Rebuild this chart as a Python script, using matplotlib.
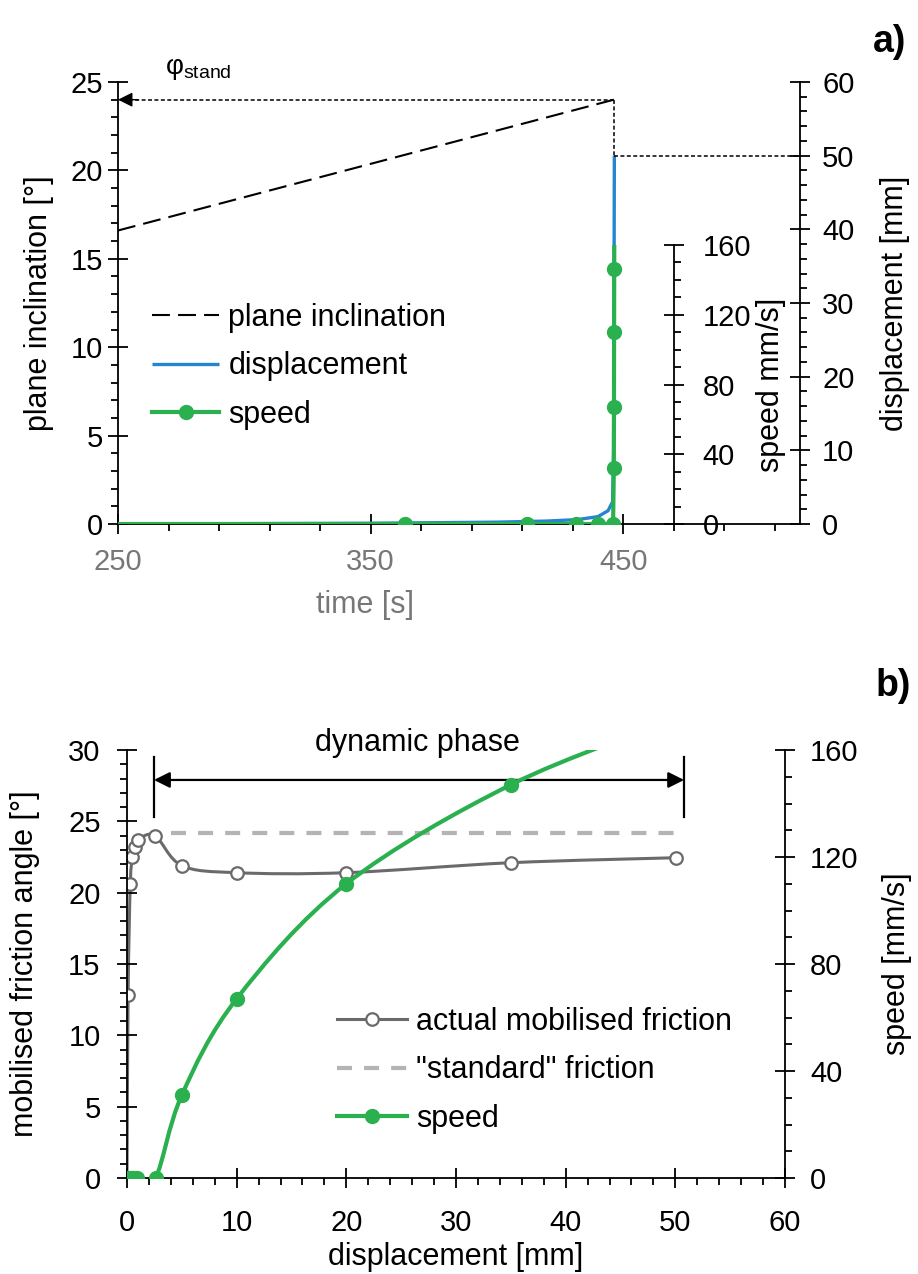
import numpy as np
import matplotlib
matplotlib.use('Agg')
import matplotlib.pyplot as plt
from matplotlib.path import Path
from matplotlib.patches import PathPatch
from matplotlib.lines import Line2D
from matplotlib.ticker import MultipleLocator, FixedLocator

plt.rcParams['font.family'] = ['Liberation Sans', 'DejaVu Sans']
plt.rcParams['mathtext.fontset'] = 'custom'
plt.rcParams['mathtext.rm'] = 'Liberation Sans'
plt.rcParams['mathtext.it'] = 'Liberation Sans:italic'

# ---- a) tilting test vs. time ----
t_incl = [250, 446.3]
phi_incl = [16.6, 24.0]
phi_stand = 24.0
t_fail = 446.3
disp_final = 50

t_disp = [250, 300, 350, 400, 420, 432, 440, 444, 445.8, 446.2, 446.4, 446.5]
disp_t = [0, 0.05, 0.1, 0.25, 0.4, 0.6, 1.0, 1.8, 3.0, 10, 35, 50]

t_speed = [250, 363.7, 412, 431.5, 440, 446.0, 446.3, 446.35, 446.4, 446.45, 446.5]
speed_t = [0, 0, 0, 0, 0, 0, 32, 67, 110, 146, 172]

# ---- b) friction and speed vs. displacement ----
fr_disp = [0, 0.1, 0.3, 0.5, 0.7, 1.0, 2.55, 5.0, 10.0, 20.0, 35.0, 50.1]
fr_angle = [0, 12.8, 20.6, 22.5, 23.2, 23.7, 24.0, 21.9, 21.4, 21.4, 22.1, 22.45]
std_friction = 24.15
std_range = [4.0, 50.1]

sp_disp = [0, 0.25, 0.55, 0.9, 2.6, 5.0, 10.0, 20.0, 35.0, 50.3]
sp_speed = [0, 0, 0, 0, 0, 31, 67, 110, 147, 172]

dyn_phase = [2.46, 50.8]

green = '#2bb04f'
blue = '#2585cf'
grey = '#6a6a6a'
light = '#b4b4b4'
fs = 21     # tick labels
fl = 22     # axis labels, legend, annotations


def smooth_path(x, y):
    # catmull-rom through the points, written as cubic bezier segments
    p = np.column_stack([x, y]).astype(float)
    n = len(p)
    verts = [p[0]]
    codes = [Path.MOVETO]
    for i in range(n - 1):
        p0 = p[i - 1] if i > 0 else p[i]
        p3 = p[i + 2] if i + 2 < n else p[i + 1]
        verts += [p[i] + (p[i + 1] - p0) / 6, p[i + 1] - (p3 - p[i]) / 6, p[i + 1]]
        codes += [Path.CURVE4] * 3
    return Path(verts, codes)


def style_ticks(a, axis='both', pad=4):
    a.tick_params(axis=axis, which='major', direction='inout', length=14, width=1.3,
                  labelsize=fs, pad=pad)
    a.tick_params(axis=axis, which='minor', direction='out', length=5, width=1.3)


W, H = 918, 1274
fig = plt.figure(figsize=(W / 100, H / 100), dpi=100)

# ================= a) =================
x0, x1, yb, yt = 118, 800, 524, 82
ax = fig.add_axes([x0 / W, 1 - yb / H, (x1 - x0) / W, (yb - yt) / H])
ax.set_xlim(250, 520)
ax.set_ylim(0, 25)
for s in ['top', 'right']:
    ax.spines[s].set_visible(False)
for s in ['left', 'bottom']:
    ax.spines[s].set_linewidth(1.3)
ax.xaxis.set_major_locator(FixedLocator([250, 350, 450]))
ax.xaxis.set_minor_locator(FixedLocator(np.arange(250, 521, 20)))
ax.yaxis.set_major_locator(MultipleLocator(5))
ax.yaxis.set_minor_locator(MultipleLocator(1))
style_ticks(ax)
ax.tick_params(axis='x', which='major', labelcolor='#777777', pad=10)
ax.set_ylabel('plane inclination [°]', fontsize=fl, labelpad=12)
ax.set_xlabel('time [s]', fontsize=fl, color='#777777')
ax.xaxis.set_label_coords((365 - x0) / (x1 - x0), -(605 - yb) / (yb - yt))
ax.xaxis.label.set_va('center')

incl_line, = ax.plot(t_incl, phi_incl, color='k', lw=1.5, ls=(0, (8.6, 3.9)))

# phi_stand marker arrow
ax.plot([t_fail, 251.5], [phi_stand, phi_stand], color='k', lw=1.1, ls=(0, (2.6, 1.6)))
ax.annotate('', xy=(250, phi_stand), xytext=(258, phi_stand),
            arrowprops=dict(arrowstyle='-|>', color='k', lw=1, mutation_scale=22,
                            shrinkA=0, shrinkB=0))
ax.text(282, 25.75, r'$\mathregular{\varphi_{stand}}$', fontsize=20, ha='center', va='center')

axd = ax.twinx()
axd.set_ylim(0, 60)
axd.set_xlim(250, 520)
for s in ['top', 'left', 'bottom']:
    axd.spines[s].set_visible(False)
axd.spines['right'].set_linewidth(1.3)
axd.yaxis.set_major_locator(MultipleLocator(10))
axd.yaxis.set_minor_locator(MultipleLocator(2))
style_ticks(axd, 'y', pad=9)
axd.set_ylabel('displacement [mm]', fontsize=fl, labelpad=18)

disp_line, = axd.plot(t_disp, disp_t, color=blue, lw=2.4, solid_capstyle='butt')
# failure guide lines
axd.plot([t_fail, t_fail], [phi_stand * 60 / 25, disp_final], color='k', lw=1.1,
         ls=(0, (2.6, 1.6)))
axd.plot([t_fail, 520], [disp_final, disp_final], color='k', lw=1.1, ls=(0, (2.6, 1.6)))

# speed axis inset, spine sits at t = 470
ys = 245
wpx = (470 - 250) / (520 - 250) * (x1 - x0)
axs = fig.add_axes([x0 / W, 1 - yb / H, wpx / W, (yb - ys) / H])
axs.patch.set_visible(False)
axs.set_xlim(250, 470)
axs.set_ylim(0, 160)
for s in ['top', 'left', 'bottom']:
    axs.spines[s].set_visible(False)
axs.spines['right'].set_linewidth(1.3)
axs.set_xticks([])
axs.yaxis.tick_right()
axs.yaxis.set_label_position('right')
axs.yaxis.set_major_locator(MultipleLocator(40))
axs.yaxis.set_minor_locator(MultipleLocator(10))
style_ticks(axs, 'y', pad=14)
axs.set_ylabel('speed mm/s]', fontsize=fl, labelpad=3)
axs.plot(t_speed, speed_t, color=green, lw=3, marker='o', ms=10,
         markevery=slice(1, None))

h_speed = Line2D([], [], color=green, lw=3, marker='o', ms=10)
axs.legend([incl_line, disp_line, h_speed], ['plane inclination', 'displacement', 'speed'],
           loc='upper left', bbox_to_anchor=((152 - x0) / wpx, (yb - 303) / (yb - ys)),
           frameon=False, fontsize=fl, handlelength=2.2, handletextpad=0.3,
           labelspacing=0.6, borderaxespad=0, borderpad=0)

fig.text(890 / W, 1 - 42 / H, 'a)', fontsize=27, fontweight='bold', ha='center', va='center')

# ================= b) =================
bx0, bx1, byb, byt = 127, 785, 1178, 750
bx = fig.add_axes([bx0 / W, 1 - byb / H, (bx1 - bx0) / W, (byb - byt) / H])
bx.set_xlim(0, 60)
bx.set_ylim(0, 30)
for s in ['top', 'right']:
    bx.spines[s].set_visible(False)
for s in ['left', 'bottom']:
    bx.spines[s].set_linewidth(1.3)
bx.xaxis.set_major_locator(MultipleLocator(10))
bx.xaxis.set_minor_locator(MultipleLocator(2))
bx.yaxis.set_major_locator(MultipleLocator(5))
bx.yaxis.set_minor_locator(MultipleLocator(1))
style_ticks(bx, pad=12)
bx.tick_params(axis='x', which='major', pad=15)
bx.set_xlabel('displacement [mm]', fontsize=fl, labelpad=4)
bx.set_ylabel('mobilised friction angle [°]', fontsize=fl, labelpad=20)

bx.plot(std_range, [std_friction, std_friction], color=light, lw=3, ls=(0, (3.6, 2.9)))
bx.add_patch(PathPatch(smooth_path(fr_disp, fr_angle), facecolor='none', edgecolor=grey,
                       lw=2.2))
bx.plot(fr_disp, fr_angle, ls='none', marker='o', ms=9, mfc='white', mec=grey, mew=1.6,
        markevery=slice(1, None))

# dynamic phase bracket
bx.annotate('', xy=(dyn_phase[0], 27.9), xytext=(dyn_phase[1], 27.9),
            arrowprops=dict(arrowstyle='<|-|>', color='k', lw=1.6, mutation_scale=24,
                            shrinkA=0, shrinkB=0))
for xd in dyn_phase:
    bx.plot([xd, xd], [25.3, 29.5], color='k', lw=1.6)
bx.text(26.5, 30.5, 'dynamic phase', fontsize=fl, ha='center', va='center', clip_on=False)

bs = bx.twinx()
bs.set_ylim(0, 160)
bs.set_xlim(0, 60)
for s in ['top', 'left', 'bottom']:
    bs.spines[s].set_visible(False)
bs.spines['right'].set_linewidth(1.3)
bs.yaxis.set_major_locator(MultipleLocator(40))
bs.yaxis.set_minor_locator(MultipleLocator(10))
style_ticks(bs, 'y', pad=11)
bs.set_ylabel('speed [mm/s]', fontsize=fl, labelpad=17)
bs.add_patch(PathPatch(smooth_path(sp_disp, sp_speed), facecolor='none', edgecolor=green,
                       lw=3))
bs.plot(sp_disp, sp_speed, ls='none', marker='o', ms=10, color=green)

h_fr = Line2D([], [], color=grey, lw=2.2, marker='o', ms=9, mfc='white', mec=grey, mew=1.6)
h_std = Line2D([], [], color=light, lw=3, ls=(0, (3.6, 2.9)))
h_sp = Line2D([], [], color=green, lw=3, marker='o', ms=10)
bs.legend([h_fr, h_std, h_sp], ['actual mobilised friction', '"standard" friction', 'speed'],
          loc='upper left', bbox_to_anchor=((337 - bx0) / (bx1 - bx0), (byb - 1007) / (byb - byt)),
          frameon=False, fontsize=fl, handlelength=2.3, handletextpad=0.3,
          labelspacing=0.6, borderaxespad=0, borderpad=0)

fig.text(893 / W, 1 - 686 / H, 'b)', fontsize=27, fontweight='bold', ha='center', va='center')

fig.savefig('out.png', dpi=100)
